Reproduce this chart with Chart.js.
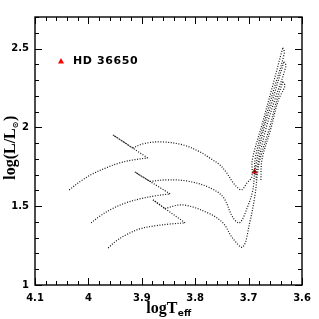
<!DOCTYPE html>
<html>
<head>
<meta charset="utf-8">
<script src="https://cdn.jsdelivr.net/npm/chart.js@4.4.0/dist/chart.umd.min.js"></script>
<style>
  html, body { margin: 0; padding: 0; background: #fff; }
  canvas { display: block; }
</style>
</head>
<body>
<canvas id="hrd" width="319" height="319"></canvas>
<script>
// evolutionary tracks (logTeff, log L/Lsun)
const trackA_logT = [4.036, 4.014, 3.992, 3.967, 3.941, 3.915, 3.889, 3.954, 3.917, 3.898, 3.866, 3.823, 3.791, 3.773, 3.754, 3.741, 3.730, 3.720, 3.713, 3.703, 3.694, 3.693, 3.675, 3.657, 3.636, 3.633, 3.653, 3.672, 3.688, 3.688]
const trackA_logL = [1.603, 1.660, 1.705, 1.743, 1.775, 1.794, 1.806, 1.952, 1.869, 1.895, 1.908, 1.889, 1.844, 1.806, 1.762, 1.711, 1.654, 1.616, 1.603, 1.648, 1.686, 1.794, 2.016, 2.238, 2.505, 2.473, 2.238, 2.016, 1.794, 1.698]
const trackA_kinks = [6, 7, 8, 24]

const trackB_logT = [3.995, 3.978, 3.956, 3.930, 3.904, 3.876, 3.847, 3.913, 3.885, 3.853, 3.816, 3.776, 3.748, 3.730, 3.717, 3.702, 3.692, 3.688, 3.672, 3.655, 3.634, 3.630, 3.651, 3.668, 3.685, 3.686]
const trackB_logL = [1.394, 1.438, 1.483, 1.521, 1.546, 1.565, 1.578, 1.717, 1.657, 1.667, 1.660, 1.622, 1.559, 1.432, 1.394, 1.495, 1.603, 1.730, 1.984, 2.175, 2.416, 2.390, 2.175, 1.984, 1.730, 1.667]
const trackB_kinks = [6, 7, 8, 20]

const trackC_logT = [3.963, 3.948, 3.930, 3.904, 3.876, 3.847, 3.819, 3.879, 3.857, 3.823, 3.776, 3.748, 3.730, 3.711, 3.698, 3.688, 3.683, 3.679, 3.662, 3.647, 3.636, 3.632, 3.644, 3.659, 3.675, 3.677]
const trackC_logL = [1.235, 1.279, 1.317, 1.356, 1.375, 1.387, 1.394, 1.540, 1.485, 1.508, 1.457, 1.394, 1.298, 1.241, 1.394, 1.571, 1.717, 1.794, 1.984, 2.175, 2.289, 2.263, 2.175, 1.984, 1.794, 1.667]
const trackC_kinks = [6, 7, 8, 20]

// the star
const starName = 'HD 36650'
const star_logT = [3.689]
const star_logL = [1.718]

const xTicks = [4.1, 4, 3.9, 3.8, 3.7, 3.6]
const yTicks = [1, 1.5, 2, 2.5]

function pts(tx, ty) {
  return tx.map((t, i) => ({x: t, y: ty[i]}))
}

function line(data, tension) {
  return {
    type: 'line',
    data: data,
    borderColor: '#111',
    borderWidth: 1.2,
    borderDash: [1, 1.6],
    pointRadius: 0,
    tension: tension,
    fill: false
  }
}

// split a track at its sharp corners: smooth curves between, straight single steps
function track(tx, ty, kinks) {
  const cuts = [0, ...kinks, tx.length - 1]
  const out = []
  for (let k = 0; k < cuts.length - 1; k++) {
    const a = cuts[k], b = cuts[k + 1]
    out.push(line(pts(tx.slice(a, b + 1), ty.slice(a, b + 1)), b - a === 1 ? 0 : 0.35))
  }
  return out
}

// box, inward ticks, axis titles and the little legend
const frame = {
  id: 'frame',
  afterDraw(chart) {
    const {ctx, chartArea: a, scales: {x, y}} = chart
    ctx.save()
    ctx.strokeStyle = '#000'
    ctx.lineWidth = 1
    ctx.beginPath()
    for (let i = 0; i <= 25; i++) {
      const px = Math.round(x.getPixelForValue(3.6 + i * 0.02)) + 0.5
      const len = i % 5 === 0 ? 7 : 4
      ctx.moveTo(px, a.bottom); ctx.lineTo(px, a.bottom - len)
      ctx.moveTo(px, a.top); ctx.lineTo(px, a.top + len)
    }
    for (let i = 0; i <= 17; i++) {
      const py = Math.round(y.getPixelForValue(1 + i * 0.1)) + 0.5
      const len = i % 5 === 0 ? 7 : 4
      ctx.moveTo(a.left, py); ctx.lineTo(a.left + len, py)
      ctx.moveTo(a.right, py); ctx.lineTo(a.right - len, py)
    }
    ctx.stroke()
    ctx.lineWidth = 1.4
    ctx.strokeRect(a.left, a.top, a.right - a.left, a.bottom - a.top)

    ctx.fillStyle = '#000'
    ctx.textBaseline = 'alphabetic'
    // x title: logT_eff
    const big = 'bold 16px "Liberation Serif"'
    const small = 'bold 9px "DejaVu Sans"'
    ctx.font = big
    const w1 = ctx.measureText('logT').width
    ctx.font = small
    const w2 = ctx.measureText('eff').width
    let cx = (a.left + a.right) / 2 - (w1 + w2) / 2
    ctx.font = big
    ctx.textAlign = 'left'
    ctx.fillText('logT', cx, 313)
    ctx.font = small
    ctx.fillText('eff', cx + w1 + 0.5, 316)

    // y title: log(L/Lsun)
    ctx.save()
    ctx.translate(15, (a.top + a.bottom) / 2 - 3)
    ctx.rotate(-Math.PI / 2)
    ctx.font = big
    const p1 = 'log(L/L'
    const q1 = ctx.measureText(p1).width
    const q3 = ctx.measureText(')').width
    ctx.font = 'bold 8px "DejaVu Sans"'
    const q2 = ctx.measureText('\u2299').width
    let sx = -(q1 + q2 + q3) / 2
    ctx.font = big
    ctx.fillText(p1, sx, 0)
    ctx.font = 'bold 8px "DejaVu Sans"'
    ctx.fillText('\u2299', sx + q1, 3)
    ctx.font = big
    ctx.fillText(')', sx + q1 + q2 + 0.5, 0)
    ctx.restore()

    // legend
    const lx = a.left + 26, ly = a.top + 44
    ctx.fillStyle = '#ff0000'
    ctx.beginPath()
    ctx.moveTo(lx, ly - 3)
    ctx.lineTo(lx + 3, ly + 2.5)
    ctx.lineTo(lx - 3, ly + 2.5)
    ctx.closePath()
    ctx.fill()
    ctx.fillStyle = '#000'
    ctx.font = 'bold 11px "DejaVu Sans"'
    ctx.letterSpacing = '0.6px'
    ctx.textBaseline = 'middle'
    ctx.fillText(starName, lx + 12, ly + 0.5)
    ctx.restore()
  }
}

const tickFont = {family: 'DejaVu Sans', weight: 'bold', size: 10}

new Chart(document.getElementById('hrd'), {
  data: {
    datasets: [
      ...track(trackA_logT, trackA_logL, trackA_kinks),
      ...track(trackB_logT, trackB_logL, trackB_kinks),
      ...track(trackC_logT, trackC_logL, trackC_kinks),
      {
        type: 'scatter',
        label: starName,
        data: pts(star_logT, star_logL),
        pointStyle: 'triangle',
        pointRadius: 3.5,
        backgroundColor: '#ff0000',
        borderColor: '#ff0000',
        borderWidth: 0
      }
    ]
  },
  options: {
    responsive: false,
    animation: false,
    layout: {padding: {top: 17, right: 17, left: 0, bottom: 0}},
    plugins: {legend: {display: false}, tooltip: {enabled: false}},
    scales: {
      x: {
        type: 'linear',
        reverse: true,
        min: 3.6,
        max: 4.1,
        afterFit: s => { s.height = 34 },
        afterBuildTicks: s => { s.ticks = xTicks.map(v => ({value: v})) },
        grid: {display: false, drawTicks: false},
        border: {display: false},
        ticks: {
          padding: 7,
          color: '#000',
          font: tickFont,
          maxRotation: 0,
          autoSkip: false,
          callback: v => String(Math.round(v * 10) / 10)
        }
      },
      y: {
        type: 'linear',
        min: 1,
        max: 2.7,
        afterFit: s => { s.width = 35 },
        afterBuildTicks: s => { s.ticks = yTicks.map(v => ({value: v})) },
        grid: {display: false, drawTicks: false},
        border: {display: false},
        ticks: {
          padding: 6,
          color: '#000',
          font: tickFont,
          autoSkip: false,
          callback: v => String(Math.round(v * 10) / 10)
        }
      }
    }
  },
  plugins: [frame]
})
</script>
</body>
</html>
